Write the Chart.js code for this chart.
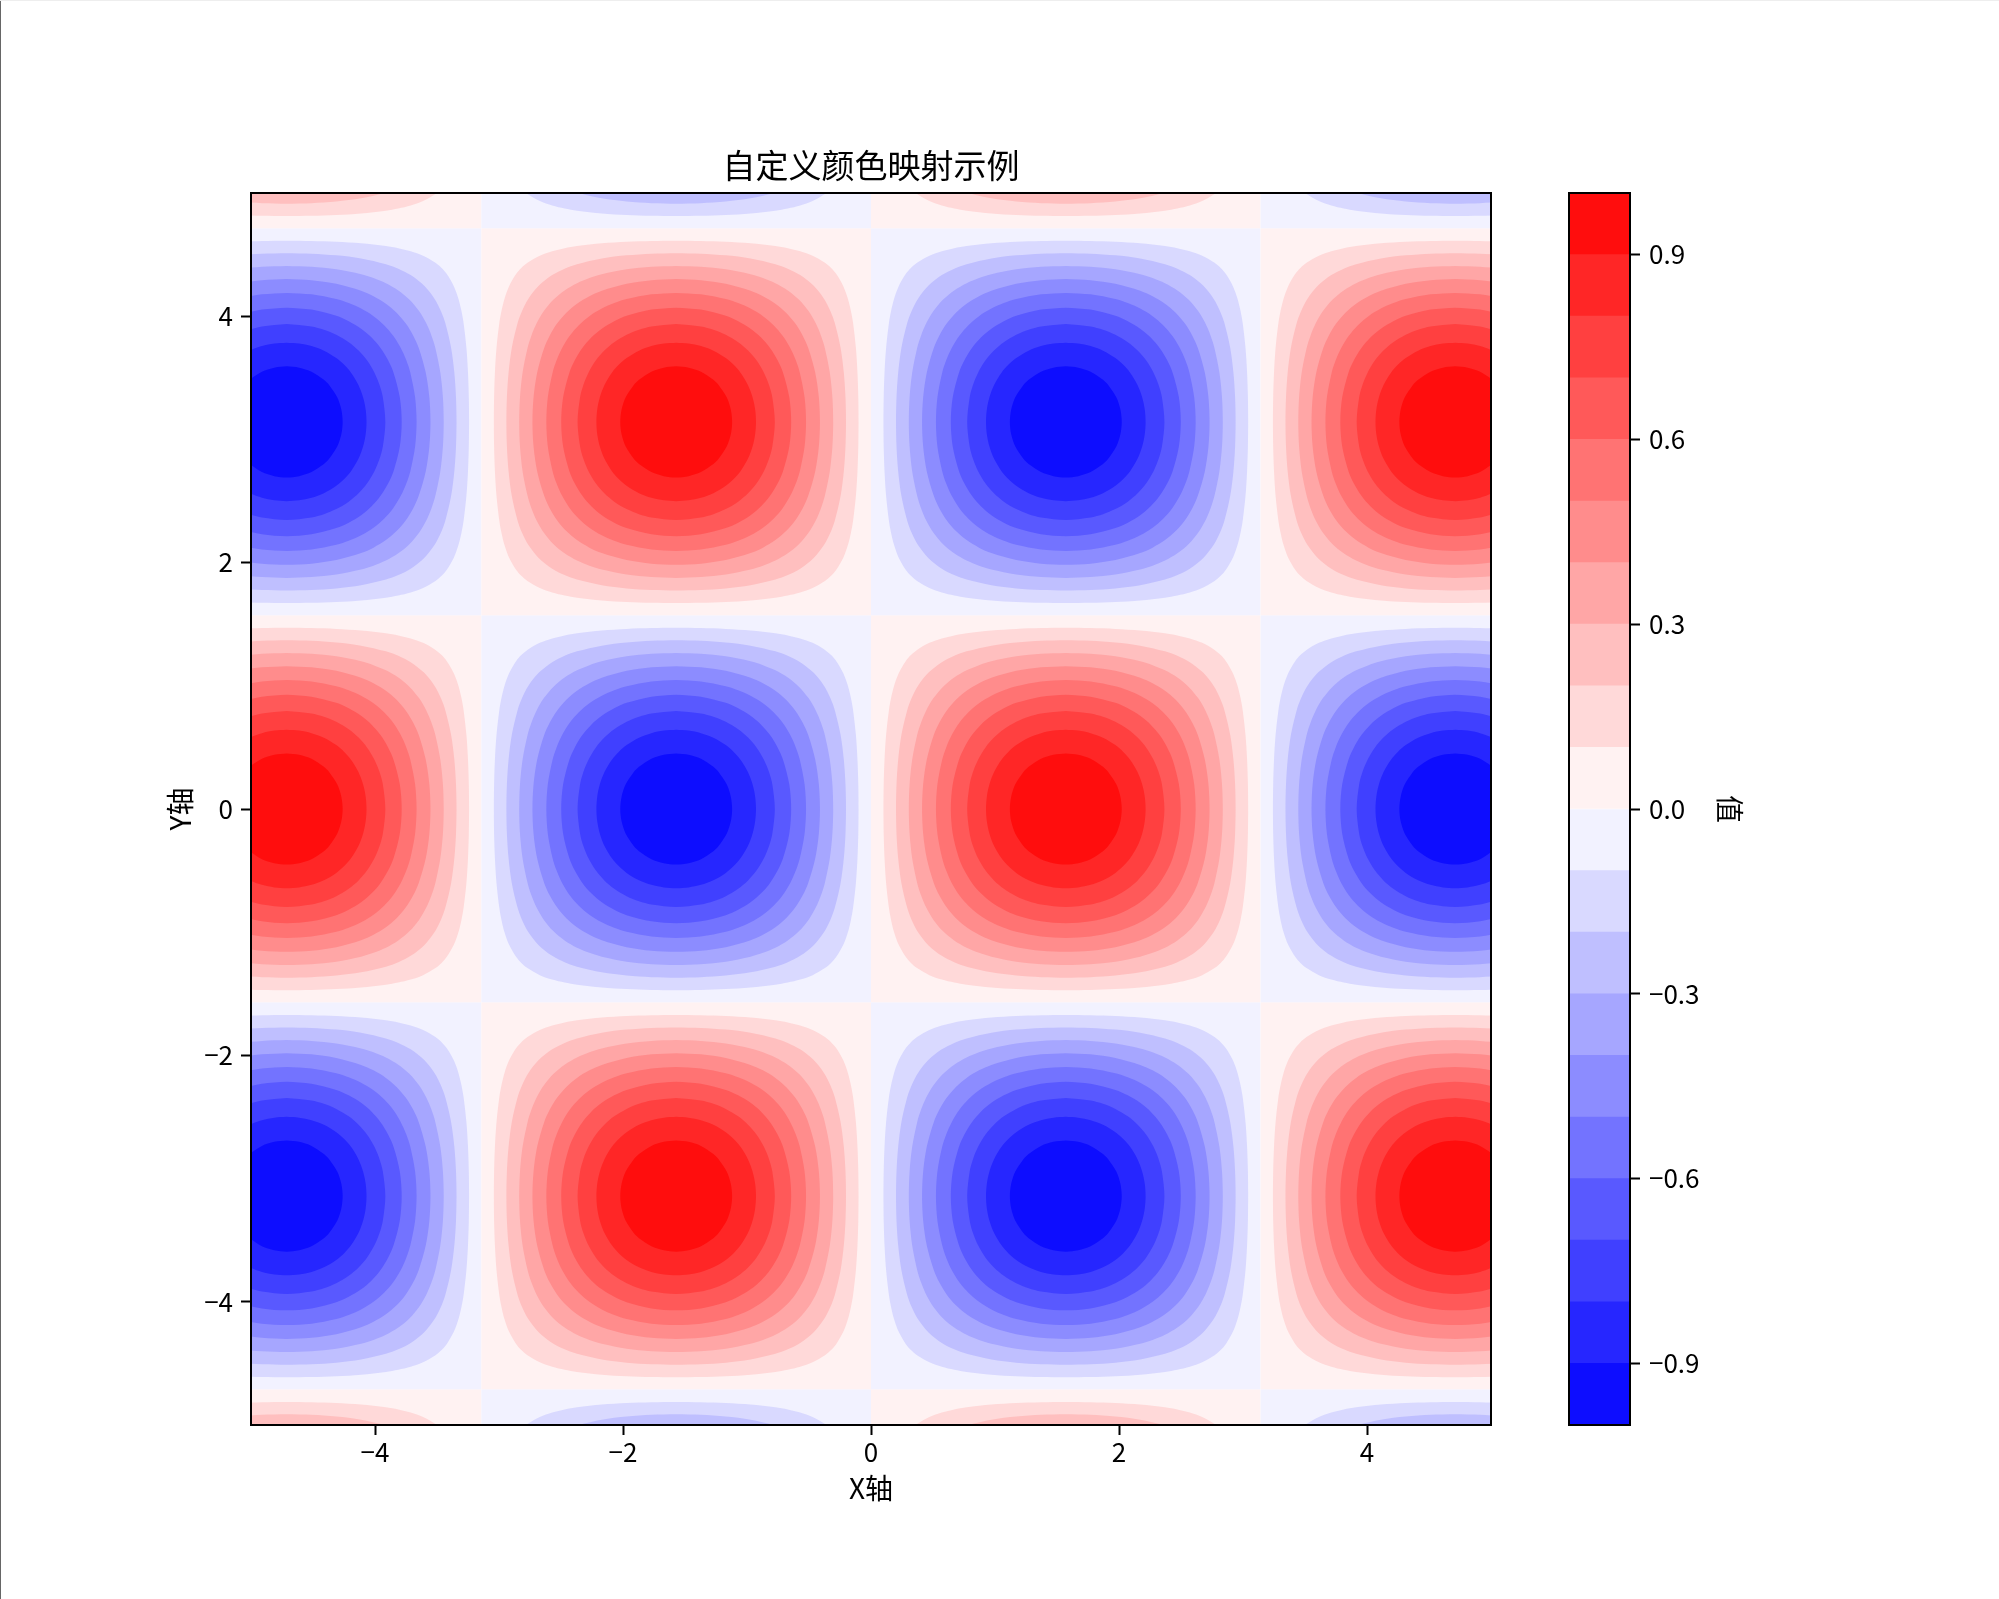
<!DOCTYPE html>
<html><head><meta charset="utf-8">
<style>
html,body{margin:0;padding:0;background:#fff;}
#page{position:relative;width:1999px;height:1599px;overflow:hidden;background:#fff;}
#edgeL{position:absolute;left:0;top:0;width:1px;height:1599px;background:#666;}
#edgeT{position:absolute;left:0;top:0;width:1999px;height:1px;background:#eee;}
canvas{position:absolute;top:0;display:block;}
</style>
<script src="https://cdn.jsdelivr.net/npm/chart.js@4"></script>
</head><body>
<div id="page">
<canvas id="main" width="1540" height="1599" style="left:0"></canvas>
<canvas id="bar" width="260" height="1599" style="left:1540px"></canvas>
<div id="edgeL"></div><div id="edgeT"></div>
</div>
<script>
const titleText = '自定义颜色映射示例';
const xLabel = 'X轴';
const yLabel = 'Y轴';
const barLabel = '值';
const xTickValues = [-4,-2,0,2,4];
const yTickValues = [-4,-2,0,2,4];
const barTickValues = [-0.9,-0.6,-0.3,0,0.3,0.6,0.9];

// Red / blue bands, from the palest (|value| 0–0.1) to the deepest (0.9–1)
const redBands  = ['#fff2f2','#ffd9d9','#ffbfbf','#ffa6a6','#ff8c8c','#ff7373','#ff5959','#ff4040','#ff2626','#ff0d0d'];
const blueBands = ['#f2f2ff','#d9d9ff','#bfbfff','#a6a6ff','#8c8cff','#7373ff','#5959ff','#4040ff','#2626ff','#0d0dff'];
const barEdges = [-1,-0.9,-0.8,-0.7,-0.6,-0.5,-0.4,-0.3,-0.2,-0.1,0,0.1,0.2,0.3,0.4,0.5,0.6,0.7,0.8,0.9,1];

// Cells of the checker pattern
const cellXEdges = [-6.283,-3.142,0,3.142,6.283];
const cellYEdges = [7.854,4.712,1.571,-1.571,-4.712,-7.854];
const peakX = [-4.712,-1.571,1.571,4.712];
const peakY = [6.283,3.142,0,-3.142,-6.283];
const peakSigns = [
  [ 1,-1, 1,-1],
  [-1, 1,-1, 1],
  [ 1,-1, 1,-1],
  [-1, 1,-1, 1],
  [ 1,-1, 1,-1]
];

// Contour outlines around a peak, one octant each, offsets from the peak centre
const contour01 = [[0,1.4706],[0.2,1.4686],[0.4,1.462],[0.6,1.4493],[0.8,1.4268],[0.9,1.4092],[1.0,1.3847],[1.1,1.3485],[1.2,1.2912],[1.249,1.249]];
const contour02 = [[0,1.3694],[0.2,1.3653],[0.4,1.3519],[0.6,1.326],[0.8,1.2796],[0.9,1.2432],[1.0,1.1917],[1.1071,1.1071]];
const contour03 = [[0,1.2661],[0.2,1.2597],[0.4,1.239],[0.6,1.1988],[0.7,1.1677],[0.8,1.1257],[0.9,1.0671],[0.9912,0.9912]];
const contour04 = [[0,1.1593],[0.2,1.1504],[0.4,1.1215],[0.6,1.0648],[0.7,1.0205],[0.8,0.9594],[0.8861,0.8861]];
const contour05 = [[0,1.0472],[0.2,1.0354],[0.4,0.997],[0.5,0.9646],[0.6,0.9201],[0.7,0.8585],[0.7854,0.7854]];
const contour06 = [[0,0.9273],[0.2,0.912],[0.4,0.8615],[0.5,0.8178],[0.6,0.7568],[0.6847,0.6847]];
const contour07 = [[0,0.7954],[0.2,0.7752],[0.3,0.7487],[0.4,0.7075],[0.5,0.6474],[0.5796,0.5796]];
const contour08 = [[0,0.6435],[0.1,0.6368],[0.2,0.6158],[0.3,0.5784],[0.4,0.5186],[0.4636,0.4636]];
const contour09 = [[0,0.451],[0.1,0.4404],[0.2,0.4073],[0.3,0.3421],[0.3217,0.3217]];
const contours = [contour01,contour02,contour03,contour04,contour05,contour06,contour07,contour08,contour09];

const tickFont = {family:"'Noto Sans CJK SC'", size:26};
const labelFont = {family:"'Noto Sans CJK SC'", size:28};
const titleFont = {family:"'Noto Sans CJK SC'", size:33, weight:'normal'};
const fmt = v => String(v).replace('-', '\u2212');
const fmtBar = v => v.toFixed(1).replace('-', '\u2212');

function poly(points, color, tension){
  return {data:points.map(p=>({x:p[0],y:p[1]})), showLine:true, fill:'shape', backgroundColor:color,
          borderColor:'rgba(0,0,0,0)', borderWidth:0, pointRadius:0, tension:tension, capBezierPoints:false, clip:0};
}
function outline(octant){
  const q = octant.concat(octant.slice(0,-1).reverse().map(p=>[p[1],p[0]]));
  const rev = q.slice().reverse();
  return q.concat(rev.slice(1).map(p=>[p[0],-p[1]]), q.slice(1).map(p=>[-p[0],-p[1]]), rev.slice(1).map(p=>[-p[0],p[1]]));
}
const datasets = [];
peakY.forEach((py,r)=>peakX.forEach((px,c)=>{
  const bands = peakSigns[r][c] > 0 ? redBands : blueBands;
  const x0=cellXEdges[c],x1=cellXEdges[c+1],y0=cellYEdges[r],y1=cellYEdges[r+1];
  datasets.push(poly([[x0,y0],[x1,y0],[x1,y1],[x0,y1],[x0,y0]], bands[0], 0));
}));
contours.forEach((oct,k)=>{
  const shape = outline(oct);
  peakY.forEach((py,r)=>peakX.forEach((px,c)=>{
    const bands = peakSigns[r][c] > 0 ? redBands : blueBands;
    datasets.push(poly(shape.map(p=>[px+p[0],py+p[1]]), bands[k+1], 0.3));
  }));
});
datasets.reverse(); // Chart.js paints the first dataset last, the deepest bands must end on top

const axisBorder = {display:true,color:'#000',width:2,z:1};
const tickGrid = {display:true,drawOnChartArea:false,drawTicks:true,tickLength:10,tickWidth:2,tickColor:'#000',color:'#000'};
const fixTicks = vals => s => { s.ticks = vals.map(v=>({value:v})); };
const plainAxis = (axis,position,min,max,size) => ({
  type:'linear',axis,position,min,max,display:true,
  grid:{display:false},ticks:{display:false},border:axisBorder,
  afterFit:s=>{ if(axis==='x') s.height=size; else s.width=size; }
});

new Chart(document.getElementById('main'),{
  type:'scatter',
  data:{datasets},
  options:{
    responsive:false,animation:false,devicePixelRatio:1,
    layout:{autoPadding:false,padding:{left:160,right:49,top:146,bottom:90}},
    plugins:{legend:{display:false},tooltip:{enabled:false},
      title:{display:true,text:titleText,fullSize:false,color:'#000',font:titleFont,padding:{top:0,bottom:7.4}}},
    scales:{
      x:{type:'linear',position:'bottom',min:-5,max:5,grid:tickGrid,border:axisBorder,
         afterBuildTicks:fixTicks(xTickValues),afterFit:s=>{s.height=84;},
         ticks:{color:'#000',font:tickFont,padding:2,maxRotation:0,callback:fmt},
         title:{display:true,text:xLabel,color:'#000',font:labelFont,padding:4}},
      y:{type:'linear',position:'left',min:-5,max:5,grid:tickGrid,border:axisBorder,
         afterBuildTicks:fixTicks(yTickValues),afterFit:s=>{s.width=91;},
         ticks:{color:'#000',font:tickFont,padding:8,callback:fmt},
         title:{display:true,text:yLabel,color:'#000',font:labelFont,padding:4}},
      xTop:plainAxis('x','top',-5,5,0),
      yRight:plainAxis('y','right',-5,5,0)
    }
  }
});

const barBands = blueBands.slice().reverse().concat(redBands);
new Chart(document.getElementById('bar'),{
  type:'bar',
  data:{labels:['值'],datasets:barBands.map((col,i)=>({
    data:[[barEdges[i],barEdges[i+1]]],backgroundColor:col,borderWidth:0,
    categoryPercentage:1,barPercentage:1,grouped:false,clip:0
  }))},
  options:{
    responsive:false,animation:false,devicePixelRatio:1,
    layout:{autoPadding:false,padding:{left:29,right:50,top:193,bottom:174}},
    plugins:{legend:{display:false},tooltip:{enabled:false},title:{display:false}},
    scales:{
      x:{type:'category',position:'bottom',display:true,grid:{display:false},ticks:{display:false},border:axisBorder,afterFit:s=>{s.height=0;}},
      y:{type:'linear',position:'right',min:-1,max:1,grid:tickGrid,border:axisBorder,
         afterBuildTicks:fixTicks(barTickValues),afterFit:s=>{s.width=120;},
         ticks:{color:'#000',font:tickFont,padding:9,callback:fmtBar},
         title:{display:true,text:barLabel,color:'#000',font:labelFont,padding:4}},
      xTop:plainAxis('x','top',0,1,0),
      yLeft:plainAxis('y','left',-1,1,0)
    }
  }
});
</script>
</body></html>
